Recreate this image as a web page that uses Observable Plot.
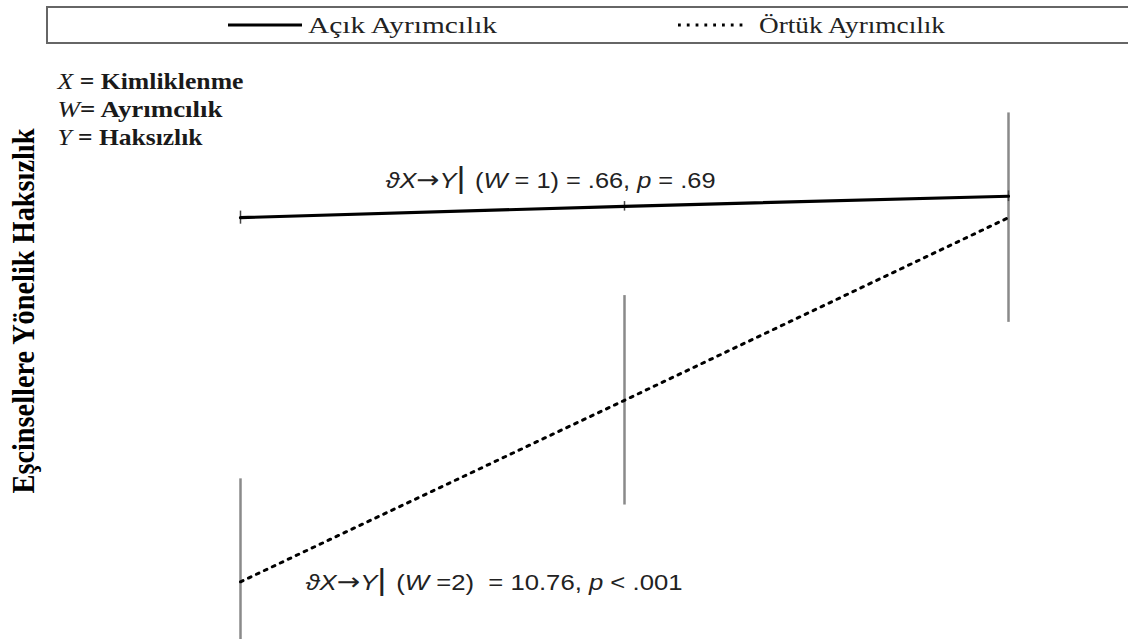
<!DOCTYPE html>
<html>
<head>
<meta charset="utf-8">
<script src="https://cdn.jsdelivr.net/npm/d3@7"></script>
<script src="https://cdn.jsdelivr.net/npm/@observablehq/plot@0.6"></script>
<style>
  html, body { margin: 0; padding: 0; background: #fff; }
  body { width: 1128px; height: 639px; overflow: hidden; position: relative; }
  #legend {
    position: relative; box-sizing: border-box;
    margin: 6px 0 0 46px; height: 38px; width: 1100px;
    border: 2px solid #666; border-right: none;
    font-family: "Liberation Serif", "Times New Roman", serif; font-size: 24px; color: #222;
  }
  .item { position: absolute; top: 0; height: 34px; display: flex; align-items: center; white-space: nowrap; }
  .item svg { display: block; }
  .item span { display: inline-block; transform-origin: 0 50%; }
  #chart svg { display: block; }
</style>
</head>
<body>
<div id="legend"></div>
<div id="chart"></div>
<script>
// ---- data ----
const xLevels = ["Düşük", "Orta", "Yüksek"];           // Kimliklenme levels
const seriesNames = ["Açık Ayrımcılık", "Örtük Ayrımcılık"];
const acikMeans = [7.09, 7.28, 7.45];
const acikErr   = [0.11, 0.08, 0.09];
const ortukMeans = [0.97, 4.02, 7.09];
const ortukErr   = [1.73, 1.76, 1.76];
const yLabel = "Eşcinsellere Yönelik Haksızlık";
const keyLines = [["X", " = Kimliklenme"], ["W", "= Ayrımcılık"], ["Y", " = Haksızlık"]];
const effect1 = [["ϑX", "i"], ["→", "a"], ["Y", "i"], ["| ", "b"], ["(", ""], ["W", "i"], [" = 1) = .66, ", ""], ["p", "i"], [" = .69", ""]];
const effect2 = [["ϑX", "i"], ["→", "a"], ["Y", "i"], ["| ", "b"], ["(", ""], ["W", "i"], [" =2)  = 10.76, ", ""], ["p", "i"], [" < .001", ""]];

// ---- styling ----
const solidStyle = {strokeWidth: 3.2, strokeDasharray: null};
const dotStyle = {strokeWidth: 3, strokeDasharray: "2.8,6"};

// ---- legend (HTML) ----
const legend = document.getElementById("legend");
const legendItems = [{left: 180, w: 74, gap: 6, textW: 189}, {left: 630, w: 67, gap: 14, textW: 186}];
seriesNames.forEach((name, i) => {
  const st = i === 0 ? solidStyle : dotStyle;
  const it = legendItems[i];
  const div = document.createElement("div");
  div.className = "item";
  div.style.left = it.left + "px";
  div.innerHTML = `<svg width="${it.w}" height="10" style="margin-right:${it.gap}px"><line x1="0" x2="${it.w}" y1="5" y2="5" stroke="#000" stroke-width="${st.strokeWidth}" ${st.strokeDasharray ? `stroke-dasharray="${st.strokeDasharray}"` : ""}/></svg><span>${name}</span>`;
  legend.appendChild(div);
  const span = div.querySelector("span");
  const w = span.getBoundingClientRect().width;
  span.style.transform = `scaleX(${it.textW / w})`;
});

// ---- table ----
const acik = xLevels.map((x, i) => ({x, y: acikMeans[i], e: acikErr[i]}));
const ortuk = xLevels.map((x, i) => ({x, y: ortukMeans[i], e: ortukErr[i]}));
const joinText = segs => segs.map(s => s[0]).join("");

const serif = "Liberation Serif, Times New Roman, serif";
const sans = "Liberation Sans, DejaVu Sans, Arial, sans-serif";

const plot = Plot.plot({
  width: 1128,
  height: 595,
  marginTop: 0, marginBottom: 0, marginLeft: 240, marginRight: 120,
  x: {type: "point", domain: xLevels, padding: 0, axis: null},
  y: {domain: [0, 10], axis: null},
  style: {background: "#fff", overflow: "hidden"},
  marks: [
    Plot.ruleX(ortuk, {x: "x", y1: d => d.y - d.e, y2: d => d.y + d.e, stroke: "#8a8a8a", strokeWidth: 2.5}),
    Plot.ruleX(acik, {x: "x", y1: d => d.y - d.e, y2: d => d.y + d.e, stroke: "#444", strokeWidth: 1.5}),
    Plot.line(acik, {x: "x", y: "y", stroke: "#000", strokeWidth: solidStyle.strokeWidth}),
    Plot.line(ortuk, {x: "x", y: "y", stroke: "#000", strokeWidth: dotStyle.strokeWidth, strokeDasharray: dotStyle.strokeDasharray}),
    Plot.text([joinText(effect1)], {x: () => xLevels[0], y: () => acikMeans[0], dx: 145, dy: -37, textAnchor: "start", fontFamily: sans, fontSize: 22, fill: "#222"}),
    Plot.text([joinText(effect2)], {x: () => xLevels[0], y: () => ortukMeans[0], dx: 65, dy: 1, textAnchor: "start", fontFamily: sans, fontSize: 22, fill: "#222"}),
    Plot.text([yLabel], {frameAnchor: "left", rotate: -90, dx: 24 - 240, dy: -31, textAnchor: "middle", lineAnchor: "middle", fontFamily: serif, fontWeight: "bold", fontSize: 31, fill: "#000"}),
    Plot.text([keyLines.map(l => l.join("")).join("\n")], {frameAnchor: "top-left", dx: 57 - 240, dy: 64, textAnchor: "start", lineAnchor: "middle", lineHeight: 28 / 23, fontFamily: serif, fontSize: 23, fill: "#1a1a1a"})
  ]
});
document.getElementById("chart").appendChild(plot);

// ---- rich text post-processing ----
const svg = d3.select(plot);
function setSegs(node, segs, len) {
  const sel = d3.select(node);
  sel.text(null);
  segs.forEach(([t, k]) => {
    const ts = sel.append("tspan").text(t);
    if (k === "i") ts.attr("font-style", "italic");
    if (k === "a") ts.attr("font-family", "DejaVu Sans").attr("font-size", 24);
    if (k === "b") ts.attr("font-size", 30);
  });
  sel.attr("textLength", len).attr("lengthAdjust", "spacingAndGlyphs");
}
svg.selectAll("text").each(function() {
  const t = this.textContent;
  if (t === joinText(effect1)) setSegs(this, effect1, 330);
  else if (t === joinText(effect2)) setSegs(this, effect2, 377);
  else if (t === yLabel) d3.select(this).attr("textLength", 365).attr("lengthAdjust", "spacingAndGlyphs");
});
const keyWidths = [186, 165, 145];
svg.selectAll("tspan").each(function() {
  const t = this.textContent;
  const idx = keyLines.findIndex(l => l.join("") === t);
  if (idx >= 0) {
    const k = keyLines[idx];
    const sel = d3.select(this);
    sel.text(null);
    sel.append("tspan").attr("font-style", "italic").text(k[0]);
    sel.append("tspan").attr("font-weight", "bold").text(k[1]);
    sel.attr("textLength", keyWidths[idx]).attr("lengthAdjust", "spacingAndGlyphs");
  }
});
</script>
</body>
</html>
